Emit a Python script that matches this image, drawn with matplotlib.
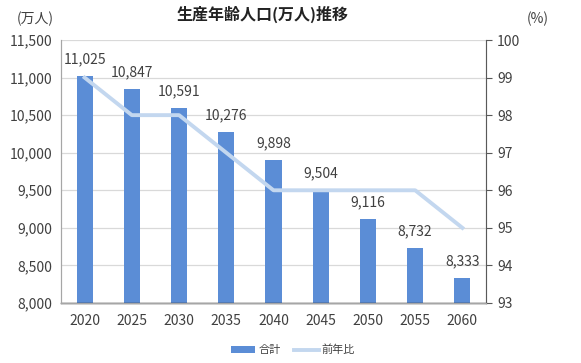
import matplotlib
matplotlib.use("Agg")
import matplotlib.pyplot as plt
from matplotlib.ticker import FuncFormatter

plt.rcParams['font.family'] = ['Noto Sans CJK JP', 'DejaVu Sans']

years = ['2020', '2025', '2030', '2035', '2040', '2045', '2050', '2055', '2060']
total = [11025, 10847, 10591, 10276, 9898, 9504, 9116, 8732, 8333]
ratio = [99, 98, 98, 97, 96, 96, 96, 96, 95]

bar_color = '#5B8DD6'
line_color = '#C3D7EF'
text_color = '#404040'

fig = plt.figure(figsize=(5.81, 3.63), dpi=100)
ax = fig.add_axes([61/581, 1-303/363, (486-61)/581, (303-40)/363])
ax2 = ax.twinx()

x = list(range(len(years)))
bars = ax.bar(x, total, width=0.34, color=bar_color, zorder=2, label='合計')
ax.set_ylim(8000, 11500)
ax.set_xlim(-0.5, len(years)-0.5)
ax.set_yticks(range(8000, 11501, 500))
ax.yaxis.set_major_formatter(FuncFormatter(lambda v, p: f'{int(v):,}'))
ax.set_xticks(x)
ax.set_xticklabels(years)
ax.grid(axis='y', color='#D9D9D9', linewidth=0.9, zorder=0)
ax.set_axisbelow(True)
for xi, v in zip(x, total):
    ax.text(xi, v + 130, f'{v:,}', ha='center', va='bottom', fontsize=10, color=text_color, zorder=5)

ln, = ax2.plot(x, ratio, color=line_color, linewidth=2.8, label='前年比', zorder=3)
ax2.set_ylim(93, 100)
ax2.set_yticks(range(93, 101))

for a in (ax, ax2):
    for s in a.spines.values():
        s.set_color('#A6A6A6')
    a.spines['top'].set_visible(False)
ax.spines['bottom'].set_color('#262626')
ax.spines['bottom'].set_linewidth(1.0)
ax2.spines['right'].set_color('#595959')
ax.spines['left'].set_color('#A6A6A6')

ax.tick_params(axis='y', length=0, labelsize=10, labelcolor=text_color, pad=6)
ax.tick_params(axis='x', length=0, labelsize=10, labelcolor=text_color, pad=8)
ax2.tick_params(axis='y', length=4, color='#595959', labelsize=10, labelcolor=text_color, pad=4)

fig.text(263/581, 1-14/363, '生産年齢人口(万人)推移', ha='center', va='center',
         fontsize=11.5, fontweight='bold', color='#222222')
fig.text(35/581, 1-19/363, '(万人)', ha='center', va='center', fontsize=10, color=text_color)
fig.text(538/581, 1-19/363, '(%)', ha='center', va='center', fontsize=10, color=text_color)

leg = fig.legend(handles=[bars, ln], loc='center', bbox_to_anchor=(293/581, 1-350/363),
                 ncol=2, frameon=False, fontsize=8, handlelength=2.2, handleheight=0.5,
                 columnspacing=1.2, handletextpad=0.3)
for t in leg.get_texts():
    t.set_color(text_color)

fig.savefig('out.png', dpi=100)
